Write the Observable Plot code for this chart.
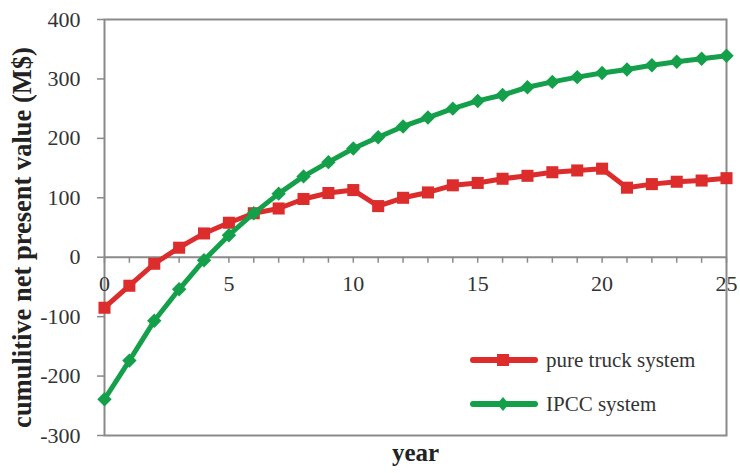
<!DOCTYPE html>
<html>
<head>
<meta charset="utf-8">
<script src="https://cdn.jsdelivr.net/npm/d3@7"></script>
<script src="https://cdn.jsdelivr.net/npm/@observablehq/plot@0.6"></script>
<style>
  html, body { margin: 0; padding: 0; background: #fff; }
  #wrap { position: relative; width: 740px; height: 473px; }
  #legend { position: absolute; left: 470px; top: 338px; font-family: "Liberation Serif", "Times New Roman", serif; font-size: 21px; color: #333; }
  #legend .row { display: flex; align-items: center; height: 44px; }
  #legend svg { margin-right: 8px; }
</style>
</head>
<body>
<div id="wrap">
  <div id="chart"></div>
  <div id="legend"></div>
</div>
<script>
const years = d3.range(0, 26);
const truck = [-85, -48, -11, 16, 40, 58, 74, 82, 98, 108, 113, 86, 100, 109, 121, 125, 132, 137, 143, 146, 149, 117, 123, 127, 129, 133];
const ipcc = [-239, -174, -107, -54, -5, 37, 74, 107, 136, 160, 183, 202, 220, 235, 250, 263, 273, 286, 295, 303, 310, 316, 323, 329, 334, 339];
const seriesNames = ["pure truck system", "IPCC system"];
const seriesColors = ["#dc2c2c", "#14a04a"];
const yTicks = [-300, -200, -100, 0, 100, 200, 300, 400];
const xTickLabels = [0, 5, 10, 15, 20, 25];
const yTitle = "cumulitive net present value (M$)";
const xTitle = "year";

const truckData = years.map((y, i) => ({year: y, value: truck[i]}));
const ipccData = years.map((y, i) => ({year: y, value: ipcc[i]}));

const font = "'Liberation Serif', 'Times New Roman', serif";
const axisGray = "#8a8a8a";

const chart = Plot.plot({
  width: 740,
  height: 473,
  marginLeft: 104,
  marginRight: 14,
  marginTop: 19,
  marginBottom: 38,
  style: {fontFamily: font, background: "#fff"},
  x: {domain: [0, 25], axis: null},
  y: {domain: [-300, 400], axis: null},
  marks: [
    Plot.frame({stroke: axisGray, strokeWidth: 2}),
    Plot.ruleY([0], {stroke: axisGray, strokeWidth: 2}),
    Plot.ruleX(years, {x: d => d, y1: 0, y2: 0, insetBottom: -6, stroke: axisGray, strokeWidth: 1.5}),
    Plot.text(xTickLabels, {x: d => d, y: 0, text: d => String(d), dy: 27, fontSize: 22, fill: "#333", fontFamily: font}),
    Plot.axisY(yTicks, {tickSize: 7, tickPadding: 17, tickFormat: d => String(d), fontSize: 22, fill: "#333", stroke: axisGray, strokeWidth: 1.5, label: null, fontFamily: font}),
    Plot.text([yTitle], {frameAnchor: "left", textAnchor: "middle", text: d => d, rotate: -90, dx: -82, dy: 10, fontSize: 26.5, fontWeight: "bold", fill: "#222", fontFamily: font}),
    Plot.text([xTitle], {frameAnchor: "bottom", text: d => d, dy: 25, fontSize: 25, fontWeight: "bold", fill: "#222", fontFamily: font}),
    Plot.line(truckData, {x: "year", y: "value", stroke: seriesColors[0], strokeWidth: 5}),
    Plot.dot(truckData, {x: "year", y: "value", symbol: "square", r: 6.8, fill: seriesColors[0]}),
    Plot.line(ipccData, {x: "year", y: "value", stroke: seriesColors[1], strokeWidth: 5}),
    Plot.dot(ipccData, {x: "year", y: "value", symbol: "diamond2", r: 6.5, fill: seriesColors[1]})
  ]
});
document.getElementById("chart").appendChild(chart);

const legend = document.getElementById("legend");
seriesNames.forEach((name, i) => {
  const row = document.createElement("div");
  row.className = "row";
  const marker = i === 0
    ? `<rect x="27" y="5" width="12" height="12" fill="${seriesColors[i]}"/>`
    : `<path d="M33 4 L39 11 L33 18 L27 11 Z" fill="${seriesColors[i]}"/>`;
  row.innerHTML = `<svg width="68" height="22"><line x1="3" y1="11" x2="65" y2="11" stroke="${seriesColors[i]}" stroke-width="6" stroke-linecap="round"/>${marker}</svg><span>${name}</span>`;
  legend.appendChild(row);
});
</script>
</body>
</html>
